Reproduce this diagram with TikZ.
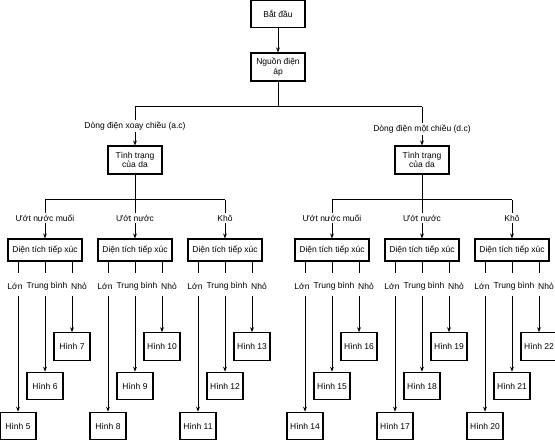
\documentclass[tikz,border=0pt]{standalone}
\usepackage{fontspec}
\setmainfont{Liberation Sans}
\usetikzlibrary{arrows.meta}
\begin{document}
\begin{tikzpicture}[x=1pt,y=-1pt,
  font=\fontsize{8.5}{9.5}\selectfont,
  box/.style={draw,line width=1.1pt,align=center,inner sep=1pt},
  lbl/.style={inner sep=1.5pt},
  conn/.style={line width=1pt},
  arr/.style={conn,-{Stealth[length=5pt,width=3.8pt]}}]
\useasboundingbox[fill=white] (0,0) rectangle (555,441);
% top
\node[box,minimum width=54pt,minimum height=27pt] (start) at (278,14) {Bắt đầu};
\node[box,minimum width=54pt,minimum height=28pt] (src) at (278,67) {Nguồn điện\\áp};
\draw[arr] (start) -- (src);
\coordinate (top) at (278,107);
\coordinate (barL) at (135,107);
\coordinate (barR) at (422,107);
\draw[conn] (src) -- (top);
\draw[conn] (barL) -- (barR);
\node[lbl] (ac) at (135,126) {Dòng điện xoay chiều (a.c)};
\node[lbl] (dc) at (422,129) {Dòng điện một chiều (d.c)};
\node[box,minimum width=54pt,minimum height=28pt] (ttL) at (135,160) {Tình trạng\\của da};
\node[box,minimum width=54pt,minimum height=28pt] (ttR) at (422,160) {Tình trạng\\của da};
\draw[conn] (barL) -- (ac.north);
\draw[conn] (barR) -- (dc.north);
\draw[arr] (ac.south) -- (ttL.north);
\draw[arr] (dc.south) -- (ttR.north);
% groups
\foreach \g/\c/\n/\t in {1/45/0/Ướt nước muối,2/135/1/Ướt nước,3/225/2/Khô,4/332/3/Ướt nước muối,5/422/4/Ướt nước,6/512/5/Khô}{
  \coordinate (t\g) at (\c,200);
  \node[lbl] (g\g) at (\c,218) {\t};
  \node[box,minimum width=74pt,minimum height=22pt] (d\g) at (\c,250) {Diện tích tiếp xúc};
  \draw[conn] (t\g) -- (g\g.north);
  \draw[arr] (g\g.south) -- (d\g.north);
  \foreach \dx/\hy/\lt/\lx/\m in {-27/426/Lớn/-3/5,0/386/Trung bình/2/6,27/346.5/Nhỏ/7/7}{
    \pgfmathtruncatemacro\num{\m+3*\n}
    \coordinate (a\g\m) at (\c+\dx,273);
    \coordinate (b\g\m) at (\c+\dx,296);
    \node[lbl] (s\g\m) at (\c+\dx+\lx,286) {\lt};
    \node[box,minimum width=36pt,minimum height=27.5pt] (h\num) at (\c+\dx,\hy) {Hình \num};
    \draw[conn] (d\g.south -| a\g\m) -- (a\g\m);
    \draw[arr] (b\g\m) -- (h\num);
  }
}
\draw[conn] (t1) -- (t3);
\draw[conn] (t4) -- (t6);
\draw[conn] (ttL) -- (t2);
\draw[conn] (ttR) -- (t5);
\end{tikzpicture}
\end{document}
